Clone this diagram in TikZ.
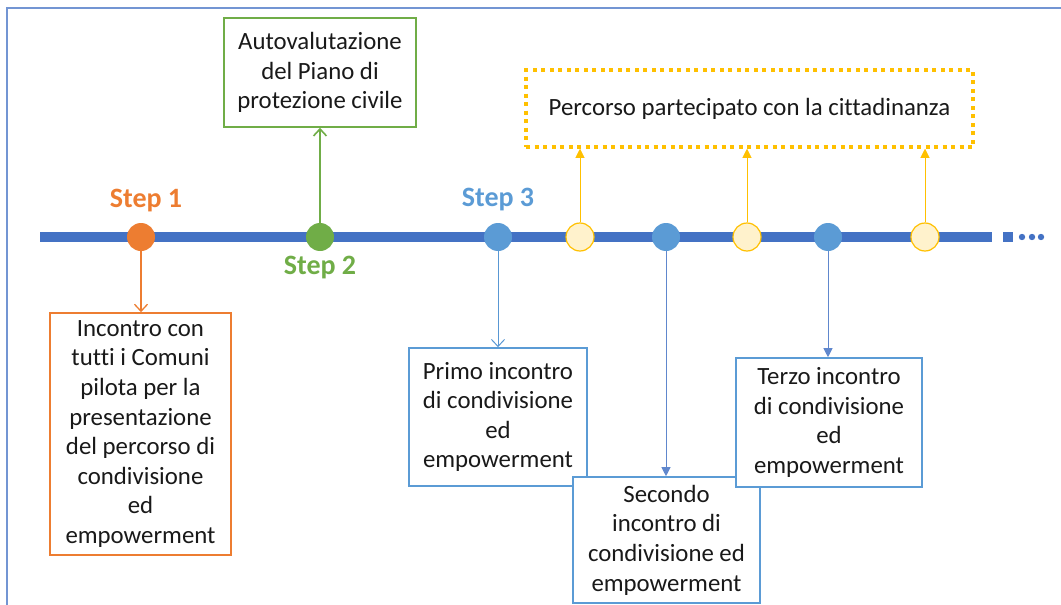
\documentclass[tikz,border=0pt]{standalone}
\usepackage{fontspec}
\setmainfont{Carlito}[Ligatures=NoCommon]
\usetikzlibrary{arrows.meta,positioning}
\definecolor{stepor}{HTML}{ED7D31}
\definecolor{stepgr}{HTML}{70AD47}
\definecolor{stepbl}{HTML}{5B9BD5}
\definecolor{lineblu}{HTML}{4472C4}
\definecolor{partyel}{HTML}{FFC000}
\definecolor{partfill}{HTML}{FFF2CC}
\tikzset{
  txt/.style={font=\fontsize{24.8}{29.6}\selectfont, text=black!90, align=center},
  box/.style={txt, draw, line width=1.6pt, fill=white, inner sep=0pt},
  dot/.style={circle, minimum size=28pt, inner sep=0pt},
  pdot/.style={dot, fill=partfill, draw=partyel, line width=1.2pt},
  steplbl/.style={font=\fontsize{28}{30}\bfseries\selectfont},
  openarr/.style={-{Straight Barb[length=7pt,width=13pt]}},
  fillarr/.style={-{Triangle[length=9pt,width=9pt]}},
}

\begin{document}
\begin{tikzpicture}[x=1pt,y=-1pt]
    \useasboundingbox (0,0) rectangle (1061,605);
    % frame
    \draw[lineblu!75, line width=1.2pt] (7,605) -- (7,8) -- (1061,8);
    % timeline
    \draw[lineblu, line width=9.5pt] (40,237) -- (992,237);
    \fill[lineblu] (1003,232) rectangle (1013,242);
    \foreach \x in {1022,1032,1041} \fill[lineblu] (\x,237) circle (3.2pt);

    % steps
    \node[dot, fill=stepor] (s1) at (141,237) {};
    \node[dot, fill=stepgr] (s2) at (320,237) {};
    \node[dot, fill=stepbl] (s3) at (498,237) {};
    \node[dot, fill=stepbl] (s4) at (666,237) {};
    \node[dot, fill=stepbl] (s5) at (828,237) {};
    \node[pdot] (p1) at (580,237) {};
    \node[pdot] (p2) at (747,237) {};
    \node[pdot] (p3) at (925,237) {};
    \node[steplbl, text=stepor] (l1) at (146,201) {Step 1};
    \node[steplbl, text=stepgr] (l2) at (320,268) {Step 2};
    \node[steplbl, text=stepbl] (l3) at (498,200) {Step 3};

    % boxes
    \node[box, draw=stepor, minimum width=181pt, minimum height=242pt] (b1) at (140.5,434)
      {Incontro con\\tutti i Comuni\\pilota per la\\presentazione\\del percorso di\\condivisione\\ed\\empowerment};
    \node[box, draw=stepgr, minimum width=192pt, minimum height=109pt] (b2) at (320,72.5)
      {Autovalutazione\\del Piano di\\protezione civile};
    \node[box, draw=stepbl, minimum width=178pt, minimum height=138pt] (b3) at (498,417)
      {Primo incontro\\di condivisione\\ed\\empowerment};
    \node[box, draw=stepbl, minimum width=187pt, minimum height=126pt] (b4) at (666.5,540)
      {Secondo\\incontro di\\condivisione ed\\empowerment};
    \node[box, draw=stepbl, minimum width=186pt, minimum height=129pt] (b5) at (829,422.5)
      {Terzo incontro\\di condivisione\\ed\\empowerment};
    \node[txt, draw=partyel, line width=3.5pt, dash pattern=on 4pt off 4.5pt,
      minimum width=447pt, minimum height=77pt] (part) at (749.5,108.5)
      {Percorso partecipato con la cittadinanza};

    % arrows
    \draw[stepor, line width=1.3pt, openarr] (s1.south) -- (s1.south |- b1.north);
    \draw[stepgr, line width=1.6pt, openarr] (s2.north) -- (s2.north |- b2.south);
    \draw[stepbl!90!lineblu, line width=1pt, openarr] (s3.south) -- (s3.south |- b3.north);
    \draw[lineblu!85, line width=1pt, fillarr] (s4.south) -- (s4.south |- b4.north);
    \draw[lineblu!85, line width=1pt, fillarr] (s5.south) -- (s5.south |- b5.north);
    \foreach \p in {p1,p2,p3}
      \draw[partyel, line width=0.6pt, fillarr] (\p.north) -- (\p.north |- part.south);
\end{tikzpicture}
\end{document}
